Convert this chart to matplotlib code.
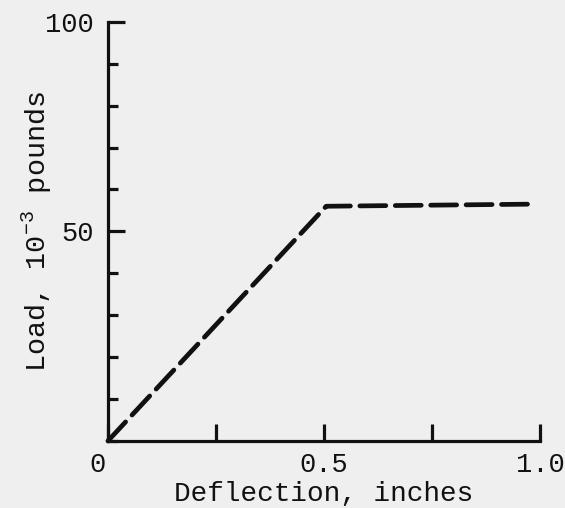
import matplotlib
matplotlib.use('Agg')
from matplotlib import pyplot as plt
from matplotlib.ticker import MultipleLocator
import matplotlib.transforms as mtransforms

# load-deflection curve, load in 10^-3 pounds
deflection = [0.0, 0.505, 0.98]
load = [0.0, 56.0, 56.5]

x_ticks = [0.0, 0.25, 0.5, 0.75, 1.0]
x_ticklabels = ['0', '', '0.5', '', '1.0']
y_ticks = [50, 100]
y_ticklabels = ['50', '100']

ink = '#111111'
paper = '#efefef'

plt.rcParams['font.family'] = ['Liberation Mono', 'DejaVu Sans Mono']
plt.rcParams['mathtext.fontset'] = 'custom'
plt.rcParams['mathtext.rm'] = 'Liberation Mono'

fig = plt.figure(figsize=(5.65, 5.08), dpi=100, facecolor=paper)
ax = fig.add_axes([0.191, 0.132, 0.765, 0.825], facecolor=paper)

ax.plot(deflection, load, color=ink, lw=3.4, dashes=(5.5, 2.0),
        dash_capstyle='round', clip_on=False)

ax.set_xlim(0, 1.0)
ax.set_ylim(0, 100)

for side in ['top', 'right']:
    ax.spines[side].set_visible(False)
for side in ['left', 'bottom']:
    ax.spines[side].set_linewidth(2.3)
    ax.spines[side].set_color(ink)

ax.set_xticks(x_ticks)
ax.set_xticklabels(x_ticklabels)
ax.set_yticks(y_ticks)
ax.set_yticklabels(y_ticklabels)
ax.yaxis.set_minor_locator(MultipleLocator(10))

ax.tick_params(axis='both', which='major', direction='in', length=12, width=2.3,
               color=ink, labelsize=19.5, labelcolor=ink, pad=10)
ax.tick_params(axis='x', which='major', pad=8)
ax.tick_params(axis='y', which='minor', direction='in', length=7.5, width=2.3, color=ink)

# nudge the "0" label a little to the left of the origin
shift = mtransforms.ScaledTranslation(-10 / 100, 0, fig.dpi_scale_trans)
lbl0 = ax.get_xticklabels()[0]
lbl0.set_transform(lbl0.get_transform() + shift)

ax.set_xlabel('Deflection, inches', fontsize=20, color=ink, labelpad=2)
ax.set_ylabel('Load, 10$^{-3}$ pounds', fontsize=20.5, color=ink, labelpad=-6)

fig.savefig('out.png', dpi=100, facecolor=paper)
